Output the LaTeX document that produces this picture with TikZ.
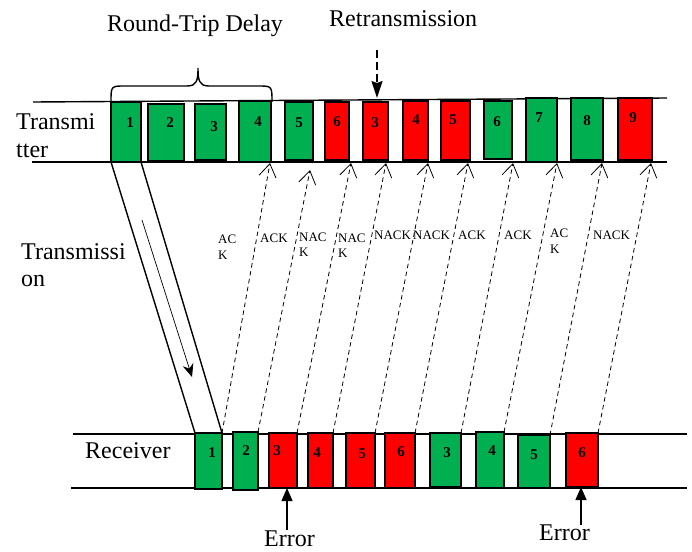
\documentclass[tikz,border=0pt]{standalone}
\usepackage{fontspec}
\setmainfont{Liberation Serif}
\usetikzlibrary{arrows.meta,calc}
\definecolor{okgreen}{HTML}{00B050}
\definecolor{errred}{HTML}{FF0000}
\tikzset{
  lane/.style={line width=1.4pt},
  pkt/.style={draw=black, line width=1.4pt, inner sep=0pt, outer sep=0pt},
  ok/.style={pkt, fill=okgreen},
  bad/.style={pkt, fill=errred},
  num/.style={font=\fontsize{15}{15}\selectfont\bfseries, inner sep=0pt},
  big/.style={font=\fontsize{24}{28}\selectfont, inner sep=0pt, anchor=base west},
  small/.style={font=\fontsize{13}{16}\selectfont, inner sep=0pt, anchor=base west},
  ackline/.style={line width=0.8pt, dash pattern=on 4.5pt off 3.5pt,
    -{Straight Barb[length=13pt,width=17pt]}},
  errarrow/.style={line width=1.2pt, -{Triangle[length=13pt,width=11pt]}},
}
% packet box given by its left, right, top and bottom edges
\newcommand\pktbox[6]{%
  \node[#2, minimum width={(#4)-(#3)}, minimum height={(#6)-(#5)}]
    (#1) at ({((#3)+(#4))/2},{((#5)+(#6))/2}) {};}
\begin{document}
\begin{tikzpicture}[x=1pt,y=-1pt]
\useasboundingbox (0,0) rectangle (692,551);

% time lines of transmitter and receiver
\draw[lane] (33,102) -- (667,98);
\draw[lane] (32,162) -- (667,162);
\draw[lane] (73,434) -- (687,434);
\draw[lane] (71,488) -- (687,488);

% transmitter packets
\pktbox{t1}{ok}{111}{141}{102}{162}
\pktbox{t2}{ok}{148}{184}{104}{161}
\pktbox{t3}{ok}{195}{226}{104}{160}
\pktbox{t4}{ok}{239}{271}{101}{162}
\pktbox{t5}{ok}{285}{313}{102}{160}
\pktbox{t6}{bad}{325}{349}{102}{160}
\pktbox{t7}{bad}{363}{388}{102}{160}
\pktbox{t8}{bad}{403}{428}{101}{160}
\pktbox{t9}{bad}{441}{470}{101}{160}
\pktbox{t10}{ok}{484}{512}{101}{159}
\pktbox{t11}{ok}{526}{557}{98}{162}
\pktbox{t12}{ok}{571}{603}{98}{160}
\pktbox{t13}{bad}{618}{652}{98}{160}
\node[num] (t1n) at (130,123) {1};
\node[num] (t2n) at (170,123) {2};
\node[num] (t3n) at (214,127) {3};
\node[num] (t4n) at (258,122) {4};
\node[num] (t5n) at (299,123) {5};
\node[num] (t6n) at (337,122) {6};
\node[num] (t7n) at (375,123) {3};
\node[num] (t8n) at (416,120) {4};
\node[num] (t9n) at (453,120) {5};
\node[num] (t10n) at (497,122) {6};
\node[num] (t11n) at (539,118) {7};
\node[num] (t12n) at (587,121) {8};
\node[num] (t13n) at (633,118) {9};

% receiver packets
\pktbox{r1}{ok}{195}{222}{433}{489}
\pktbox{r2}{ok}{233}{258}{432}{490}
\pktbox{r3}{bad}{269}{297}{433}{488}
\pktbox{r4}{bad}{308}{333}{433}{488}
\pktbox{r5}{bad}{346}{375}{433}{488}
\pktbox{r6}{bad}{385}{415}{433}{488}
\pktbox{r7}{ok}{430}{461}{433}{487}
\pktbox{r8}{ok}{476}{504}{432}{488}
\pktbox{r9}{ok}{518}{550}{435}{488}
\pktbox{r10}{bad}{566}{598}{433}{487}
\node[num] (r1n) at (212,453) {1};
\node[num] (r2n) at (246,451) {2};
\node[num] (r3n) at (277,451) {3};
\node[num] (r4n) at (317,453) {4};
\node[num] (r5n) at (362,454) {5};
\node[num] (r6n) at (401,452) {6};
\node[num] (r7n) at (447,453) {3};
\node[num] (r8n) at (492,451) {4};
\node[num] (r9n) at (534,455) {5};
\node[num] (r10n) at (582,453) {6};

% round-trip brace over the first four packets
\draw[line width=1.4pt] (111,102) .. controls (111,86) .. (125,86) -- (187,86)
  .. controls (197,86) and (198,80) .. (198,68)
  .. controls (198,80) and (199,86) .. (209,86) -- (258,86)
  .. controls (272,86) .. (272,102);

% side labels and captions
\node[big] (rtd) at (107,32) {Round-Trip Delay};
\node[big] (retx) at (329,27) {Retransmission};
\node[big] (txa) at (16,129) {Transmi};
\node[big] (txb) at (16,157) {tter};
\node[big] (tra) at (21,259) {Transmissi};
\node[big] (trb) at (21,286) {on};
\node[big] (rx) at (85,458) {Receiver};
\node[big] (err1) at (264,546) {Error};
\node[big] (err2) at (539,540) {Error};

% retransmission marker
\coordinate (rt0) at (377,50);
\coordinate (rt1) at (377,98);
\draw[line width=1.4pt, dash pattern=on 8pt off 4pt,
  -{Stealth[length=17pt,width=11pt,inset=2pt]}] (rt0) -- (rt1);

% transmission of packet 1
\draw[lane] (t1.south west) -- (r1.north west);
\draw[lane] (t1.south east) -- (r1.north east);
\coordinate (fa) at (142,220);
\coordinate (fb) at (192,377);
\draw[line width=0.7pt, -{Stealth[length=13pt,width=11pt]}] (fa) -- (fb);

% feedback tips on the transmitter line
\coordinate (k1) at (270,163);
\coordinate (k2) at (310,170);
\coordinate (k3) at (351,163);
\coordinate (k4) at (386,163);
\coordinate (k5) at (428,163);
\coordinate (k6) at (468,163);
\coordinate (k7) at (513,163);
\coordinate (k8) at (557,163);
\coordinate (k9) at (602,163);
\coordinate (k10) at (651,163);
\draw[ackline] (r1.north east) -- (k1);
\draw[ackline] (r2.north east) -- (k2);
\draw[ackline] (r3.north east) -- (k3);
\draw[ackline] (r4.north east) -- (k4);
\draw[ackline] (r5.north east) -- (k5);
\draw[ackline] (r6.north east) -- (k6);
\draw[ackline] (r7.north east) -- (k7);
\draw[ackline] (r8.north east) -- (k8);
\draw[ackline] (r9.north east) -- (k9);
\draw[ackline] (r10.north east) -- (k10);

% feedback labels
\node[small] (f1a) at (218,243) {AC};
\node[small] (f1b) at (218,259) {K};
\node[small] (f2) at (260,242) {ACK};
\node[small] (f3a) at (299,241) {NAC};
\node[small] (f3b) at (299,256) {K};
\node[small] (f4a) at (338,242) {NAC};
\node[small] (f4b) at (338,257) {K};
\node[small] (f5) at (374,239) {NACK};
\node[small] (f6) at (413,239) {NACK};
\node[small] (f7) at (458,239) {ACK};
\node[small] (f8) at (504,239) {ACK};
\node[small] (f9a) at (550,237) {AC};
\node[small] (f9b) at (550,253) {K};
\node[small] (f10) at (593,239) {NACK};

% error markers under the receiver line
\coordinate (e1) at (287,530);
\coordinate (e2) at (581,525);
\draw[errarrow] (e1) -- ([xshift=4pt]r3.south);
\draw[errarrow] (e2) -- ([xshift=-1pt]r10.south);
\end{tikzpicture}
\end{document}
